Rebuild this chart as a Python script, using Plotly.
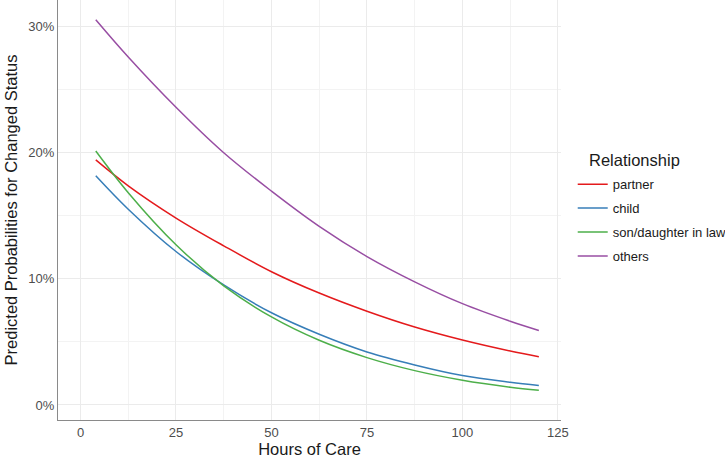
import plotly.graph_objects as go

hours = [4, 12.5, 25, 37.5, 50, 62.5, 75, 87.5, 100, 112.5, 120]
partner = [19.4, 17.35, 14.8, 12.6, 10.55, 8.86, 7.42, 6.17, 5.14, 4.27, 3.82]
child = [18.15, 15.5, 12.15, 9.5, 7.3, 5.6, 4.2, 3.17, 2.33, 1.8, 1.55]
son_daughter_in_law = [20.1, 16.8, 12.68, 9.43, 6.97, 5.12, 3.75, 2.72, 1.96, 1.41, 1.16]
others = [30.5, 27.55, 23.57, 19.97, 16.93, 14.14, 11.75, 9.75, 8.02, 6.63, 5.9]

y_ticks = [0, 10, 20, 30]
y_tick_labels = ["0%", "10%", "20%", "30%"]
x_ticks = [0, 25, 50, 75, 100, 125]

series = [
    ("partner", partner, "#E41A1C"),
    ("child", child, "#377EB8"),
    ("son/daughter in law", son_daughter_in_law, "#4DAF4A"),
    ("others", others, "#984EA3"),
]

fig = go.Figure()
for name, vals, color in series:
    fig.add_trace(go.Scatter(
        x=hours, y=vals, name=name, mode="lines",
        line=dict(color=color, width=1.5, shape="spline", smoothing=1.0),
        legendgroup=name,
    ))

font_family = "Liberation Sans, Arial, sans-serif"
fig.update_layout(
    width=725, height=459,
    margin=dict(l=58, r=164, t=0, b=39, autoexpand=False),
    paper_bgcolor="white", plot_bgcolor="white",
    font=dict(family=font_family, color="#4D4D4D", size=13),
    showlegend=True,
    legend=dict(
        x=1.0233, y=0.597, xanchor="left", yanchor="top",
        font=dict(size=13, color="#1A1A1A"),
        tracegroupgap=4, itemwidth=30,
        bgcolor="rgba(0,0,0,0)",
    ),
    annotations=[dict(
        text="Relationship", x=1.0517, y=0.619, xref="paper", yref="paper",
        xanchor="left", yanchor="middle", showarrow=False,
        font=dict(size=16.5, color="#1A1A1A", family=font_family),
    )],
    xaxis=dict(
        range=[-5.89, 125.8], tickvals=x_ticks,
        showgrid=True, gridcolor="#EBEBEB", gridwidth=1,
        minor=dict(showgrid=True, gridcolor="#F3F3F3", gridwidth=1, dtick=12.5, tick0=12.5),
        showline=True, linecolor="#8A8A8A", linewidth=1,
        zeroline=False, ticks="", automargin=False,
        tickfont=dict(size=13, color="#4D4D4D"),
        title=dict(text="Hours of Care", font=dict(size=16.5, color="#1A1A1A"), standoff=2),
    ),
    yaxis=dict(
        range=[-1.19, 32.06], tickvals=y_ticks, ticktext=y_tick_labels,
        showgrid=True, gridcolor="#EBEBEB", gridwidth=1,
        minor=dict(showgrid=True, gridcolor="#F3F3F3", gridwidth=1, dtick=5, tick0=5),
        showline=True, linecolor="#8A8A8A", linewidth=1,
        zeroline=False, ticks="", automargin=False,
        tickfont=dict(size=13, color="#4D4D4D"),
        title=dict(text="Predicted Probabilities for Changed Status", font=dict(size=16.5, color="#1A1A1A"), standoff=6),
    ),
)

fig.write_html(
    "out.html",
    config={"displayModeBar": False},
    post_script="document.body.style.margin='0';document.body.style.overflow='hidden';",
)
